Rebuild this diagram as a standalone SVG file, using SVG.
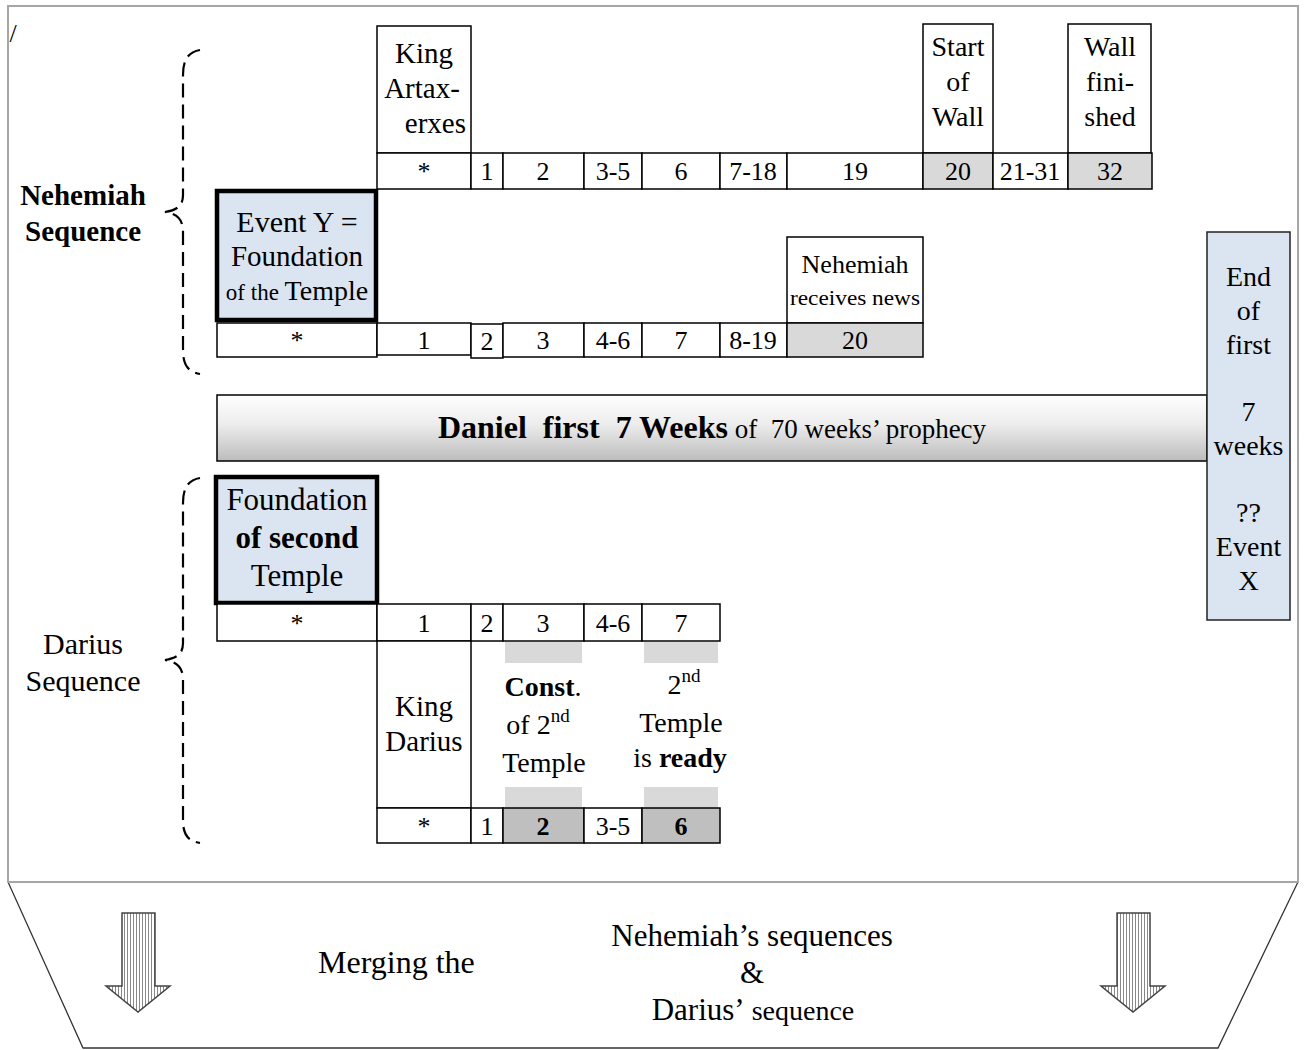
<svg xmlns="http://www.w3.org/2000/svg" width="1306" height="1050" viewBox="0 0 1306 1050">
<style>
.t{font-family:"Liberation Serif","Times New Roman",serif;font-size:28px;fill:#000;text-anchor:middle}
.n{font-size:26px}
.b{font-weight:bold}
.c{fill:#fff;stroke:#000;stroke-width:1.5}
.g{fill:#d9d9d9;stroke:#000;stroke-width:1.5}
.d{fill:#bfbfbf;stroke:#000;stroke-width:1.5}
.blue{fill:#dbe5f1;stroke:#000;stroke-width:4.5}
.band{fill:#d9d9d9;stroke:none}
.brace{fill:none;stroke:#000;stroke-width:2.2;stroke-dasharray:14 7}
.arrow{fill:url(#hatch);stroke:#444;stroke-width:1.5}
</style>
<defs>
<linearGradient id="bar" x1="0" y1="0" x2="0" y2="1">
<stop offset="0" stop-color="#ffffff"/>
<stop offset="0.45" stop-color="#ececec"/>
<stop offset="1" stop-color="#bcbcbc"/>
</linearGradient>
<pattern id="hatch" width="3" height="10" patternUnits="userSpaceOnUse">
<rect width="3" height="10" fill="#fff"/>
<line x1="1.5" y1="0" x2="1.5" y2="10" stroke="#888" stroke-width="1"/>
</pattern>
</defs>

<g id="frame">
<polygon points="8,882 1298,882 1218,1048 83,1048" fill="#fff" stroke="#333" stroke-width="1.3"/>
<rect x="8" y="6" width="1290" height="876" fill="#fff" stroke="#a6a6a6" stroke-width="2"/>
<text class="t" x="13" y="42" style="font-size:26px">/</text>
</g>

<g id="braces">
<path class="brace" d="M200,50 C188,52 183,60 183,75 L183,195 C183,205 178,210 165,212 C178,214 183,220 183,232 L183,350 C183,365 188,372 200,374"/>
<path class="brace" d="M200,478 C188,480 183,488 183,503 L183,643 C183,653 178,658 165,660 C178,662 183,668 183,680 L183,820 C183,835 188,841 200,843"/>
</g>

<g id="label-nehemiah">
<text class="t b" x="83" y="205" style="font-size:29px">Nehemiah</text>
<text class="t b" x="83" y="241" style="font-size:29px">Sequence</text>
</g>
<g id="label-darius">
<text class="t" x="83" y="654" style="font-size:30px">Darius</text>
<text class="t" x="83" y="691" style="font-size:30px">Sequence</text>
</g>

<g id="king-artaxerxes">
<rect class="c" x="377" y="26" width="94" height="127"/>
<text class="t" x="424" y="63" style="font-size:29px">King</text>
<text class="t" x="422" y="98" style="font-size:29px">Artax-</text>
<text class="t" x="466" y="133" style="font-size:29px;text-anchor:end">erxes</text>
</g>
<g id="start-of-wall">
<rect class="c" x="923" y="24" width="70" height="129"/>
<text class="t" x="958" y="56">Start</text>
<text class="t" x="958" y="91">of</text>
<text class="t" x="958" y="126">Wall</text>
</g>
<g id="wall-finished">
<rect class="c" x="1068" y="24" width="83" height="129"/>
<text class="t" x="1110" y="56">Wall</text>
<text class="t" x="1110" y="91">fini-</text>
<text class="t" x="1110" y="126">shed</text>
</g>

<g id="row-nehemiah-1">
<rect class="c" x="377" y="153" width="94" height="36"/><text class="t n" x="424" y="180">*</text>
<rect class="c" x="471" y="153" width="32" height="36"/><text class="t n" x="487" y="180">1</text>
<rect class="c" x="503" y="153" width="81" height="36"/><text class="t n" x="543" y="180">2</text>
<rect class="c" x="584" y="153" width="58" height="36"/><text class="t n" x="613" y="180">3-5</text>
<rect class="c" x="642" y="153" width="78" height="36"/><text class="t n" x="681" y="180">6</text>
<rect class="c" x="720" y="153" width="67" height="36"/><text class="t n" x="753" y="180">7-18</text>
<rect class="c" x="787" y="153" width="136" height="36"/><text class="t n" x="855" y="180">19</text>
<rect class="g" x="923" y="153" width="70" height="36"/><text class="t n" x="958" y="180">20</text>
<rect class="c" x="993" y="153" width="75" height="36"/><text class="t n" x="1030" y="180">21-31</text>
<rect class="g" x="1068" y="153" width="84" height="36"/><text class="t n" x="1110" y="180">32</text>
</g>

<g id="event-y">
<rect class="blue" x="217" y="191" width="159" height="129"/>
<text class="t" x="297" y="232" style="font-size:30px">Event Y =</text>
<text class="t" x="297" y="266" style="font-size:29px">Foundation</text>
<text class="t" x="297" y="300"><tspan style="font-size:23px">of the </tspan>Temple</text>
</g>

<g id="nehemiah-receives-news">
<rect class="c" x="787" y="237" width="136" height="86"/>
<text class="t" x="855" y="273" style="font-size:26px">Nehemiah</text>
<text class="t" x="855" y="305" style="font-size:22px" textLength="130" lengthAdjust="spacingAndGlyphs">receives news</text>
</g>

<g id="row-nehemiah-2">
<rect class="c" x="217" y="323" width="160" height="34"/><text class="t n" x="297" y="349">*</text>
<rect class="c" x="377" y="323" width="94" height="32"/><text class="t n" x="424" y="349">1</text>
<rect class="c" x="471" y="324" width="32" height="34"/><text class="t n" x="487" y="350">2</text>
<rect class="c" x="503" y="323" width="81" height="34"/><text class="t n" x="543" y="349">3</text>
<rect class="c" x="584" y="323" width="58" height="34"/><text class="t n" x="613" y="349">4-6</text>
<rect class="c" x="642" y="323" width="78" height="34"/><text class="t n" x="681" y="349">7</text>
<rect class="c" x="720" y="323" width="67" height="34"/><text class="t n" x="753" y="349">8-19</text>
<rect class="g" x="787" y="323" width="136" height="34"/><text class="t n" x="855" y="349">20</text>
</g>

<g id="daniel-bar">
<rect x="217" y="395" width="990" height="66" fill="url(#bar)" stroke="#000" stroke-width="1.5"/>
<text class="t" x="712" y="438" style="white-space:pre"><tspan class="b" style="font-size:32px">Daniel  first  7 Weeks</tspan><tspan style="font-size:27px"> of  70 weeks’ prophecy</tspan></text>
</g>

<g id="end-first-7-weeks">
<rect x="1207" y="232" width="83" height="388" fill="#dbe5f1" stroke="#222" stroke-width="1.5"/>
<text class="t" x="1248.5" y="286">End</text>
<text class="t" x="1248.5" y="320">of</text>
<text class="t" x="1248.5" y="354">first</text>
<text class="t" x="1248.5" y="421">7</text>
<text class="t" x="1248.5" y="455">weeks</text>
<text class="t" x="1248.5" y="522">??</text>
<text class="t" x="1248.5" y="556">Event</text>
<text class="t" x="1248.5" y="590">X</text>
</g>

<g id="foundation-second-temple">
<rect class="blue" x="216" y="477" width="161" height="126"/>
<text class="t" x="297" y="510" style="font-size:31px">Foundation</text>
<text class="t b" x="297" y="548" style="font-size:31px">of second</text>
<text class="t" x="297" y="586" style="font-size:31px">Temple</text>
</g>

<g id="row-darius-1">
<rect class="c" x="217" y="604" width="160" height="37"/><text class="t n" x="297" y="632">*</text>
<rect class="c" x="377" y="604" width="94" height="37"/><text class="t n" x="424" y="632">1</text>
<rect class="c" x="471" y="604" width="32" height="37"/><text class="t n" x="487" y="632">2</text>
<rect class="c" x="503" y="604" width="81" height="37"/><text class="t n" x="543" y="632">3</text>
<rect class="c" x="584" y="604" width="58" height="37"/><text class="t n" x="613" y="632">4-6</text>
<rect class="c" x="642" y="604" width="78" height="37"/><text class="t n" x="681" y="632">7</text>
</g>

<g id="king-darius">
<rect class="c" x="377" y="641" width="94" height="167"/>
<text class="t" x="424" y="716" style="font-size:29px">King</text>
<text class="t" x="424" y="751" style="font-size:29px">Darius</text>
</g>

<g id="const-second-temple">
<rect class="band" x="505" y="642" width="77" height="21"/>
<rect class="band" x="505" y="787" width="77" height="21"/>
<text class="t" x="543" y="696"><tspan class="b">Const</tspan>.</text>
<text class="t" x="538" y="734">of 2<tspan style="font-size:19px" dy="-12">nd</tspan></text>
<text class="t" x="544" y="772">Temple</text>
</g>

<g id="second-temple-ready">
<rect class="band" x="644" y="642" width="74" height="21"/>
<rect class="band" x="644" y="787" width="74" height="21"/>
<text class="t" x="684" y="694">2<tspan style="font-size:19px" dy="-12">nd</tspan></text>
<text class="t" x="681" y="732">Temple</text>
<text class="t" x="680" y="767">is <tspan class="b">ready</tspan></text>
</g>

<g id="row-darius-2">
<rect class="c" x="377" y="808" width="94" height="35"/><text class="t n" x="424" y="835">*</text>
<rect class="c" x="471" y="808" width="32" height="35"/><text class="t n" x="487" y="835">1</text>
<rect class="d" x="503" y="808" width="81" height="35"/><text class="t n b" x="543" y="835">2</text>
<rect class="c" x="584" y="808" width="58" height="35"/><text class="t n" x="613" y="835">3-5</text>
<rect class="d" x="642" y="808" width="78" height="35"/><text class="t n b" x="681" y="835">6</text>
</g>

<g id="merging">
<polygon class="arrow" points="122,913 155,913 155,986 170,986 138,1012 106,986 122,986"/>
<polygon class="arrow" points="1117,913 1150,913 1150,986 1165,986 1133,1012 1101,986 1117,986"/>
<text class="t" x="318" y="973" style="font-size:32px;text-anchor:start">Merging the</text>
<text class="t" x="752" y="946" style="font-size:31px">Nehemiah’s sequences</text>
<text class="t" x="752" y="983" style="font-size:31px">&amp;</text>
<text class="t" x="753" y="1020"><tspan style="font-size:31px">Darius’</tspan><tspan style="font-size:28px"> sequence</tspan></text>
</g>
</svg>
